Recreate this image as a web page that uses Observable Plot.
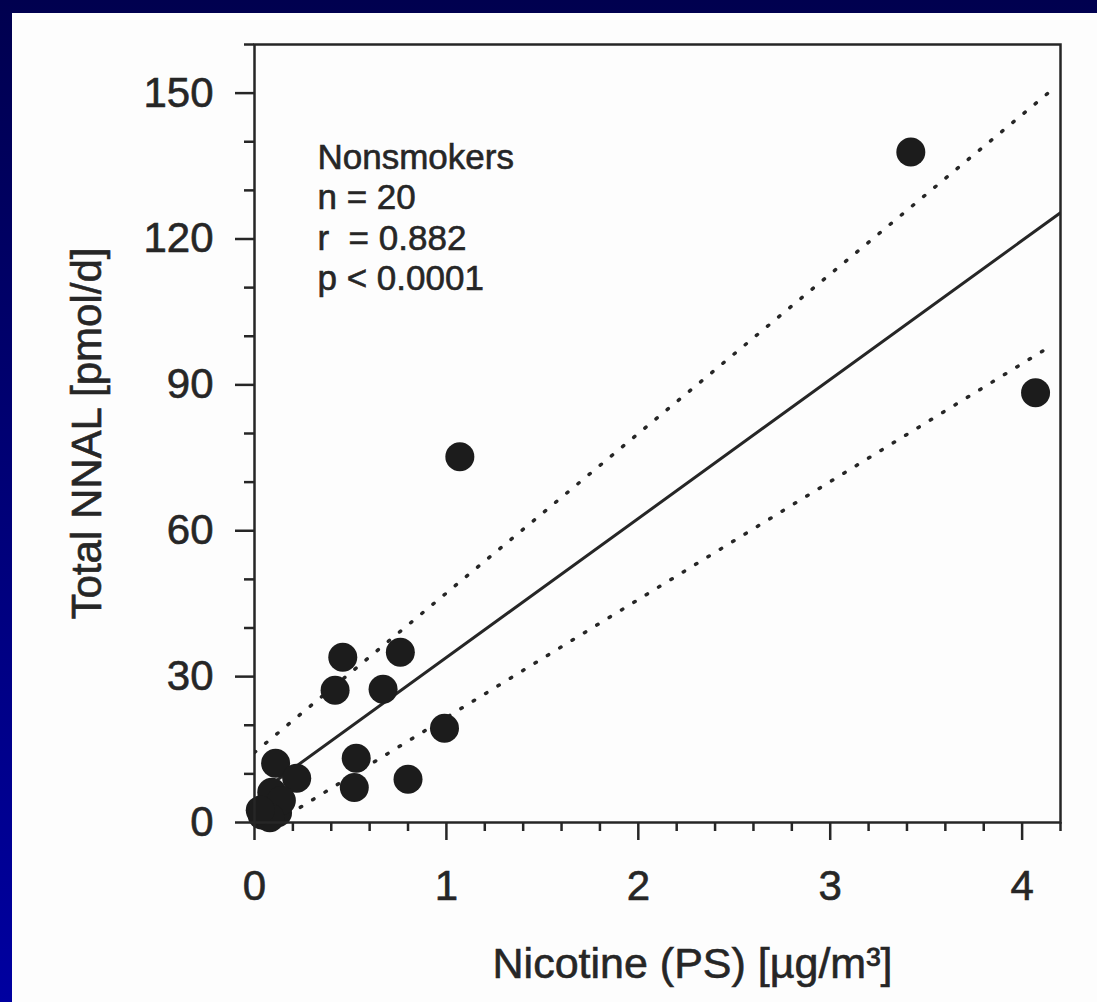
<!DOCTYPE html>
<html><head><meta charset="utf-8">
<script src="https://cdn.jsdelivr.net/npm/d3@7"></script>
<script src="https://cdn.jsdelivr.net/npm/@observablehq/plot@0.6"></script>
<style>
html,body{margin:0;padding:0;}
body{width:1097px;height:1002px;overflow:hidden;background:linear-gradient(#00004f,#0000a0);position:relative;}
#panel{position:absolute;left:12px;top:13px;width:1085px;height:989px;background:#fdfdfd;}
#panel svg{display:block;}
#panel svg text{stroke:#262626;stroke-width:0.6px;}
</style></head><body><div id="panel"></div>
<script>
// Data points (Nonsmokers, n = 20)
const nicotine = [3.42, 4.07, 1.07, 0.46, 0.76, 0.42, 0.67, 0.99, 0.53, 0.52, 0.80, 0.11, 0.22, 0.06, 0.04, 0.09, 0.12, 0.14, 0.08, 0.03];
const nnal     = [137.9, 88.4, 75.2, 34.0, 35.0, 27.2, 27.4, 19.4, 13.2, 7.2, 8.9, 12.2, 9.1, 3.1, 1.5, 6.2, 2.0, 4.5, 1.0, 2.5];

// Regression line and dotted bands (end points)
const fitX = [0.04, 4.2];   const fitY = [6.5, 125.4];
const upperX = [0, 4.15];   const upperY = [14.4, 150.5];
const lowerX = [0.11, 4.15]; const lowerY = [0, 98];

// Ticks
const xMajor = [0, 1, 2, 3, 4];
const xMinor = [0.2,0.4,0.6,0.8,1.2,1.4,1.6,1.8,2.2,2.4,2.6,2.8,3.2,3.4,3.6,3.8,4.2];
const yMajor = [0, 30, 60, 90, 120, 150];
const yMinor = [10,20,40,50,70,80,100,110,130,140,160];

const statLines = ["Nonsmokers", "n = 20", "r\u00a0 = 0.882", "p < 0.0001"];
const xTitle = "Nicotine (PS) [µg/m³]";
const yTitle = "Total NNAL [pmol/d]";

const points = nicotine.map((x, i) => ({x, y: nnal[i]}));
const fit = fitX.map((x, i) => ({x, y: fitY[i]}));
const upper = upperX.map((x, i) => ({x, y: upperY[i]}));
const lower = lowerX.map((x, i) => ({x, y: lowerY[i]}));

const ink = "#262626";
const chart = Plot.plot({
  width: 1085, height: 989,
  marginLeft: 242, marginTop: 31, marginRight: 37, marginBottom: 180,
  style: {fontFamily: "'Liberation Sans', Arial, sans-serif", fontSize: "42px", color: ink, background: "transparent"},
  x: {domain: [0, 4.2]},
  y: {domain: [0, 160]},
  marks: [
    Plot.line(upper, {x: "x", y: "y", stroke: ink, strokeWidth: 3.5, strokeDasharray: "1.5,13", strokeLinecap: "round", clip: true}),
    Plot.line(lower, {x: "x", y: "y", stroke: ink, strokeWidth: 3.5, strokeDasharray: "1.5,13", strokeLinecap: "round", clip: true}),
    Plot.line(fit, {x: "x", y: "y", stroke: ink, strokeWidth: 3, clip: true}),
    Plot.dot(points, {x: "x", y: "y", r: 14.5, fill: "#1c1c1c", stroke: "none"}),
    Plot.frame({stroke: ink, strokeWidth: 2.5}),
    Plot.axisX({ticks: xMajor, tickSize: 18, tickPadding: 30, strokeWidth: 2.5, stroke: ink, label: null, fontSize: 42, tickFormat: d3.format("d")}),
    Plot.axisX({ticks: xMinor, tickSize: 9, strokeWidth: 2.5, stroke: ink, label: null, tickFormat: () => ""}),
    Plot.axisY({ticks: yMajor, tickSize: 19, tickPadding: 22, strokeWidth: 2.5, stroke: ink, label: null, fontSize: 42, tickFormat: d3.format("d")}),
    Plot.axisY({ticks: yMinor, tickSize: 10, strokeWidth: 2.5, stroke: ink, label: null, tickFormat: () => ""}),
    Plot.text([statLines.join("\n")], {frameAnchor: "top-left", textAnchor: "start", lineAnchor: "top", dx: 63, dy: 96, fontSize: 35, lineHeight: 1.15, fill: ink}),
    Plot.text([xTitle], {frameAnchor: "bottom", textAnchor: "middle", lineAnchor: "bottom", dx: 35, dy: 155, fontSize: 43, fill: ink}),
    Plot.text([yTitle], {frameAnchor: "left", textAnchor: "middle", lineAnchor: "bottom", rotate: -90, dx: -154, dy: 0, fontSize: 42, fill: ink})
  ]
});
document.getElementById("panel").appendChild(chart);
</script>
</body></html>
